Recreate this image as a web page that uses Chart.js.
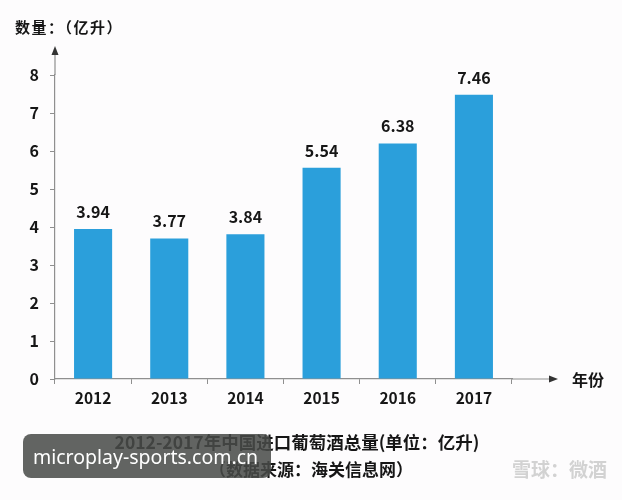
<!DOCTYPE html>
<html>
<head>
<meta charset="utf-8">
<script src="https://cdn.jsdelivr.net/npm/chart.js@4.4.1/dist/chart.umd.min.js"></script>
<style>
  html, body { margin: 0; padding: 0; background: #fdfcfd; }
  #wrap { width: 622px; height: 500px; }
</style>
</head>
<body>
<div id="wrap"><canvas id="wineChart" width="622" height="500"></canvas></div>
<script>
// ---- Data ----
const years      = ['2012', '2013', '2014', '2015', '2016', '2017'];
const barHeights = [3.95, 3.70, 3.81, 5.56, 6.20, 7.48];   // bar tops as drawn
const barLabels  = ['3.94', '3.77', '3.84', '5.54', '6.38', '7.46'];
const yTicks     = [0, 1, 2, 3, 4, 5, 6, 7, 8];

const FONT = "'Noto Sans CJK SC', 'Noto Sans', sans-serif";
const INK  = '#161616';
const AXIS = '#8f8f8f';
const BLUE = '#2b9fdb';

// ---- Extra drawing: arrows, value labels, captions ----
const decor = {
  id: 'decor',
  afterDatasetsDraw(chart) {
    const { ctx } = chart;
    const meta = chart.getDatasetMeta(0);
    ctx.save();
    ctx.fillStyle = INK;
    ctx.font = `bold 16px ${FONT}`;
    ctx.textAlign = 'center';
    ctx.textBaseline = 'middle';
    meta.data.forEach((bar, i) => {
      ctx.fillText(barLabels[i], bar.x, bar.y - 17);
    });
    ctx.restore();
  },
  afterDraw(chart) {
    const { ctx, chartArea: a } = chart;
    ctx.save();

    // axis extensions with arrow heads
    ctx.strokeStyle = AXIS;
    ctx.fillStyle = '#333';
    ctx.lineWidth = 1.2;
    ctx.beginPath();
    ctx.moveTo(a.left, a.top);
    ctx.lineTo(a.left, a.top - 22);
    ctx.moveTo(a.right, a.bottom);
    ctx.lineTo(a.right + 38, a.bottom);
    ctx.stroke();
    ctx.beginPath();
    ctx.moveTo(a.left, a.top - 29);
    ctx.lineTo(a.left - 3.5, a.top - 20);
    ctx.lineTo(a.left + 3.5, a.top - 20);
    ctx.closePath();
    ctx.fill();
    ctx.beginPath();
    ctx.moveTo(a.right + 46, a.bottom);
    ctx.lineTo(a.right + 37, a.bottom - 3.5);
    ctx.lineTo(a.right + 37, a.bottom + 3.5);
    ctx.closePath();
    ctx.fill();

    // axis titles
    ctx.fillStyle = INK;
    ctx.textBaseline = 'middle';
    ctx.font = `bold 15px ${FONT}`;
    ctx.textAlign = 'left';
    ctx.letterSpacing = '1.5px';
    ctx.fillText('数量：（亿升）', 15, 27);
    ctx.letterSpacing = '0px';
    ctx.font = `bold 16px ${FONT}`;
    ctx.fillText('年份', 572, 380);

    // bottom captions
    ctx.textAlign = 'center';
    ctx.font = `bold 17.5px ${FONT}`;
    ctx.fillText('2012-2017年中国进口葡萄酒总量(单位：亿升)', 297, 442);
    ctx.font = `600 17px ${FONT}`;
    ctx.fillText('（数据来源：海关信息网）', 311, 470);

    // watermark box
    ctx.fillStyle = 'rgba(72, 74, 72, 0.86)';
    ctx.beginPath();
    ctx.roundRect(23, 434, 248, 44, 8);
    ctx.fill();
    ctx.fillStyle = '#ffffff';
    ctx.font = `19.5px 'Noto Sans', sans-serif`;
    ctx.textAlign = 'left';
    ctx.fillText('microplay-sports.com.cn', 33, 458);

    // source mark
    ctx.fillStyle = '#d2d2d2';
    ctx.font = `bold 19px ${FONT}`;
    ctx.fillText('雪球：微酒', 512, 470);

    ctx.restore();
  }
};

// ---- Chart ----
function init() {
  const el = document.getElementById('wineChart');
  new Chart(el, {
    type: 'bar',
    data: {
      labels: years,
      datasets: [{
        data: barHeights,
        backgroundColor: BLUE,
        borderWidth: 0,
        barPercentage: 0.5,
        categoryPercentage: 1.0
      }]
    },
    options: {
      responsive: false,
      animation: false,
      layout: { padding: { top: 75, right: 110, bottom: 0, left: 0 } },
      plugins: {
        legend: { display: false },
        tooltip: { enabled: false }
      },
      scales: {
        x: {
          afterFit: (s) => { s.height = 121; },
          grid: {
            display: true,
            drawOnChartArea: false,
            offset: true,
            tickLength: 5,
            color: AXIS
          },
          border: { display: true, color: AXIS, width: 1.2 },
          ticks: {
            padding: 5,
            color: INK,
            font: { size: 15.5, weight: 'bold', family: FONT }
          }
        },
        y: {
          min: 0,
          max: 8,
          afterFit: (s) => { s.width = 55; },
          afterBuildTicks: (s) => { s.ticks = yTicks.map(v => ({ value: v })); },
          grid: {
            display: true,
            drawOnChartArea: false,
            tickLength: 5,
            color: AXIS
          },
          border: { display: true, color: AXIS, width: 1.2 },
          ticks: {
            padding: 11,
            color: INK,
            font: { size: 16, weight: 'bold', family: FONT }
          }
        }
      }
    },
    plugins: [decor]
  });
}

init();
</script>
</body>
</html>
